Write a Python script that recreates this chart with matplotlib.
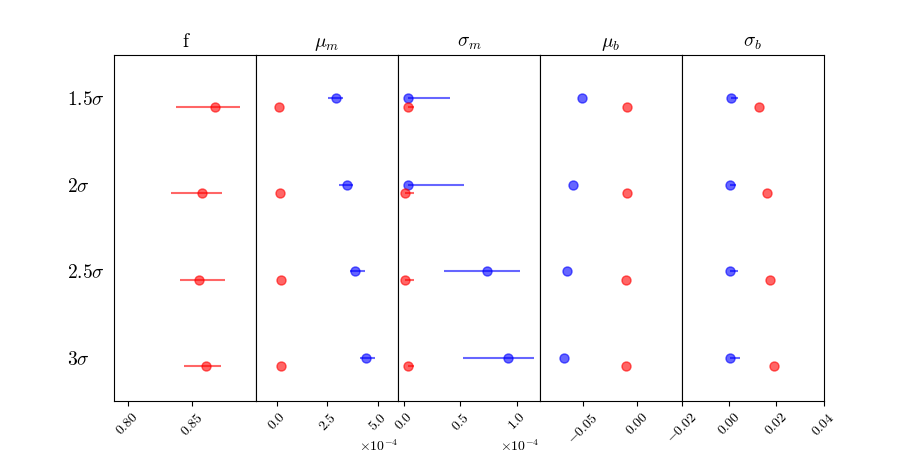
import numpy as np
import matplotlib
matplotlib.use("Agg")
import matplotlib.pyplot as plt

plt.rcParams['font.family'] = ['cmr10', 'DejaVu Serif']
plt.rcParams['mathtext.fontset'] = 'cm'
plt.rcParams['axes.formatter.use_mathtext'] = True
plt.rcParams['axes.unicode_minus'] = True

titles = ['f', r'$\mu_m$', r'$\sigma_m$', r'$\mu_b$', r'$\sigma_b$']
row_labels = [r'$1.5\sigma$', r'$2\sigma$', r'$2.5\sigma$', r'$3\sigma$']

# red series (values, lower err, upper err) per parameter
f_red = [0.8678, 0.8575, 0.8550, 0.8606]
f_red_lo = [0.0306, 0.0240, 0.0145, 0.0173]
f_red_hi = [0.0191, 0.0157, 0.0201, 0.0114]

mum_red = [0.114e-4, 0.163e-4, 0.198e-4, 0.213e-4]
mum_blue = [2.921e-4, 3.495e-4, 3.891e-4, 4.406e-4]
mum_blue_lo = [0.37e-4, 0.40e-4, 0.26e-4, 0.28e-4]
mum_blue_hi = [0.38e-4, 0.27e-4, 0.47e-4, 0.43e-4]

sm_red = [0.033e-4, 0.009e-4, 0.009e-4, 0.033e-4]
sm_red_hi = [0.05e-4, 0.077e-4, 0.077e-4, 0.05e-4]
sm_blue = [0.030e-4, 0.036e-4, 0.736e-4, 0.925e-4]
sm_blue_lo = [0.0, 0.0, 0.38e-4, 0.40e-4]
sm_blue_hi = [0.379e-4, 0.492e-4, 0.291e-4, 0.226e-4]

mub_red = [-0.0092, -0.0096, -0.0101, -0.0108]
mub_blue = [-0.0515, -0.0592, -0.0653, -0.0680]

sb_red = [0.0127, 0.0160, 0.0175, 0.0189]
sb_blue = [0.0008, 0.0003, 0.0003, 0.0003]
sb_blue_hi = [0.0029, 0.0028, 0.0035, 0.0042]

xlims = [(0.7896, 0.8995), (-1.02e-4, 6.0e-4), (-0.055e-4, 1.207e-4),
         (-0.0899, 0.0408), (-0.02, 0.04)]

y = np.arange(4)
yr = y + 0.1
zeros = [0, 0, 0, 0]

fig, axes = plt.subplots(1, 5, sharey=True, figsize=(9.15, 4.58), dpi=100)
fig.subplots_adjust(left=0.125, right=0.9, top=0.88, bottom=0.125, wspace=0)

kw = dict(fmt='o', ms=6.5, lw=1.5, alpha=0.6)

ax = axes[0]
ax.errorbar(f_red, yr, xerr=[f_red_lo, f_red_hi], color='r', **kw)

ax = axes[1]
ax.errorbar(mum_blue, y, xerr=[mum_blue_lo, mum_blue_hi], color='b', **kw)
ax.errorbar(mum_red, yr, xerr=[zeros, zeros], color='r', **kw)

ax = axes[2]
ax.errorbar(sm_blue, y, xerr=[sm_blue_lo, sm_blue_hi], color='b', **kw)
ax.errorbar(sm_red, yr, xerr=[zeros, sm_red_hi], color='r', **kw)

ax = axes[3]
ax.errorbar(mub_blue, y, xerr=[zeros, zeros], color='b', **kw)
ax.errorbar(mub_red, yr, xerr=[zeros, zeros], color='r', **kw)

ax = axes[4]
ax.errorbar(sb_blue, y, xerr=[zeros, sb_blue_hi], color='b', **kw)
ax.errorbar(sb_red, yr, xerr=[zeros, zeros], color='r', **kw)

for ax, t, xl in zip(axes, titles, xlims):
    ax.set_title(t, fontsize=14)
    ax.set_xlim(*xl)
    ax.tick_params(axis='x', labelsize=10, labelrotation=45)
    ax.tick_params(axis='y', length=0)

axes[0].set_xticks([0.80, 0.85])
axes[1].set_xticks([0.0, 2.5e-4, 5.0e-4])
axes[2].set_xticks([0.0, 0.5e-4, 1.0e-4])
axes[3].set_xticks([-0.05, 0.0])
axes[4].set_xticks([-0.02, 0.0, 0.02, 0.04])
for ax in axes[1:3]:
    ax.ticklabel_format(axis='x', style='sci', scilimits=(0, 0))
    ax.xaxis.get_offset_text().set_fontsize(10)

axes[0].set_ylim(3.5, -0.5)
axes[0].set_yticks(y)
axes[0].set_yticklabels(row_labels, fontsize=14, ha='left')
axes[0].tick_params(axis='y', pad=34)

fig.savefig('out.png', dpi=100)
